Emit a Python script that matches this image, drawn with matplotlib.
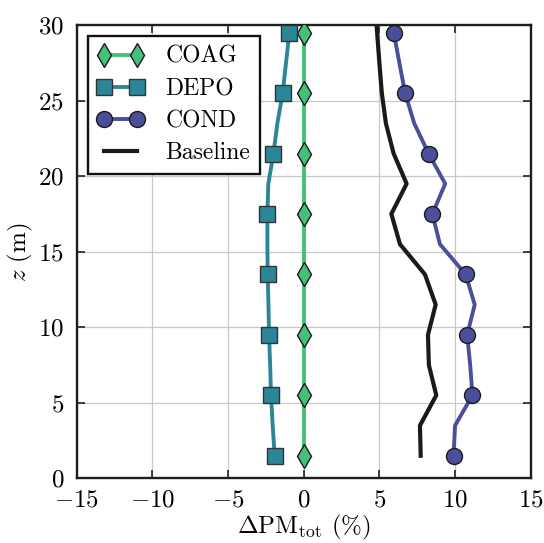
import matplotlib
matplotlib.use("Agg")
import matplotlib.pyplot as plt
import numpy as np

plt.rcParams['font.family'] = ['cmr10', 'DejaVu Serif']
plt.rcParams['mathtext.fontset'] = 'cm'
plt.rcParams['axes.formatter.use_mathtext'] = True
plt.rcParams['axes.unicode_minus'] = True

z = [1.5, 3.5, 5.5, 7.5, 9.5, 11.5, 13.5, 15.5, 17.5, 19.5, 21.5, 23.5, 25.5, 27.5, 29.5]
coag = [0.0] * 15
depo = [-1.92, -2.05, -2.16, -2.22, -2.29, -2.33, -2.38, -2.4, -2.4, -2.34, -2.0, -1.74, -1.39, -1.17, -0.95]
cond = [9.9, 10.0, 11.15, 11.0, 10.8, 11.3, 10.7, 9.0, 8.5, 9.35, 8.25, 7.3, 6.7, 6.32, 5.95]
z_base = [1.5, 3.5, 5.5, 7.5, 9.5, 11.5, 13.5, 15.5, 17.5, 19.5, 21.5, 23.5, 25.5, 27.5, 29.5, 31.5]
base = [7.73, 7.68, 8.76, 8.27, 8.21, 8.72, 8.01, 6.36, 5.79, 6.8, 5.94, 5.43, 5.16, 5.0, 4.85, 4.7]

fig = plt.figure(figsize=(5.44, 5.43), dpi=100)
ax = fig.add_axes([0.141, 0.119, 0.8346, 0.8348])

c_coag = '#45c07a'
c_depo = '#2b8798'
c_cond = '#4b4f9b'

ax.plot(coag, z, color=c_coag, lw=2.8, marker='d', ms=12, markevery=2,
        mfc=c_coag, mec='#1a1a1a', mew=1.0, label='COAG', zorder=3)
ax.plot(depo, z, color=c_depo, lw=2.8, marker='s', ms=11, markevery=2,
        mfc=c_depo, mec='#333333', mew=1.0, label='DEPO', zorder=3)
ax.plot(cond, z, color=c_cond, lw=2.8, marker='o', ms=11.5, markevery=2,
        mfc=c_cond, mec='#1a1a1a', mew=1.0, label='COND', zorder=3)
ax.plot(base, z_base, color='#1a1a1a', lw=3.0, label='Baseline', zorder=2)

ax.set_xlim(-15, 15)
ax.set_ylim(0, 30)
ax.set_xticks([-15, -10, -5, 0, 5, 10, 15])
ax.set_yticks([0, 5, 10, 15, 20, 25, 30])
ax.grid(True, color='#c8c8c8', lw=0.9)
ax.set_axisbelow(True)
ax.tick_params(direction='in', top=True, right=True, length=6, width=1.2,
               labelsize=18, color='#222222')
ax.tick_params(axis='x', pad=8)
ax.tick_params(axis='y', pad=9)
for s in ax.spines.values():
    s.set_linewidth(1.7)
    s.set_color('#1e1e1e')

ax.set_xlabel(r'$\Delta\mathrm{PM}_{\mathrm{tot}}$ (%)', fontsize=18, labelpad=1)
ax.set_ylabel(r'$z$ (m)', fontsize=18, labelpad=2)

leg = ax.legend(loc='upper left', numpoints=2, fontsize=17, fancybox=False,
                framealpha=1, edgecolor='#111111', handlelength=2.0,
                borderpad=0.4, labelspacing=0.42, handletextpad=0.9,
                borderaxespad=0.0, bbox_to_anchor=(0.024, 0.975))
leg.get_frame().set_linewidth(1.7)

fig.savefig('out.png', dpi=100)
